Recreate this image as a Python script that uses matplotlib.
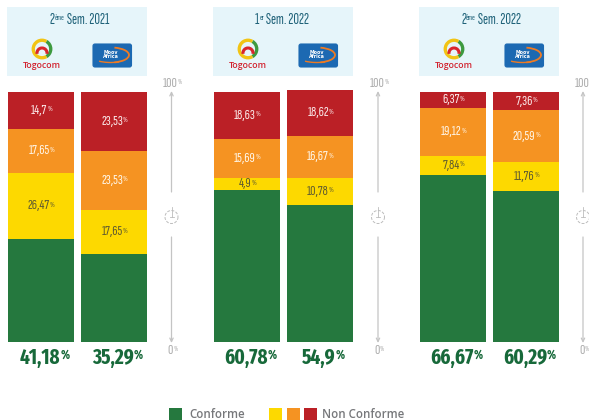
import matplotlib
matplotlib.use('Agg')
import matplotlib.pyplot as plt
from matplotlib.patches import Arc, FancyBboxPatch, Rectangle

periods = ['2', '1', '2']
period_sup = ['ème', 'er', 'ème']
period_rest = [' Sem. 2021', ' Sem. 2022', ' Sem. 2022']

conforme = [41.18, 35.29, 60.78, 54.9, 66.67, 60.29]
jaune = [26.47, 17.65, 4.9, 10.78, 7.84, 11.76]
orange = [17.65, 23.53, 15.69, 16.67, 19.12, 20.59]
rouge = [14.7, 23.53, 18.63, 18.62, 6.37, 7.36]

VERT = '#25783e'
JAUNE = '#fdd900'
ORANGE = '#f59322'
ROUGE = '#bb2026'
NARROW = ['Fira Sans Extra Condensed', 'Liberation Sans Narrow', 'DejaVu Sans']
TIGHT = ['Sofia Sans Extra Condensed', 'Fira Sans Extra Condensed', 'DejaVu Sans']

bar_x = [41, 114, 247, 320, 453, 526]
panel_x = [7, 213, 419]
scale_x = [171.5, 378, 583]

W, H = 589, 420
fig = plt.figure(figsize=(W / 100, H / 100), dpi=100)

# overlay in pixels for the headers, logos, scale and legend
ov = fig.add_axes([0, 0, 1, 1])
ov.set_xlim(0, W)
ov.set_ylim(H, 0)
ov.axis('off')

ax = fig.add_axes([0, (H - 342) / H, 1, 250 / H])
ax.set_xlim(0, W)
ax.set_ylim(0, 100)
ax.axis('off')


def fmt(v):
    return f'{v:g}'.replace('.', ',')


def pct(axes, x, y, label, size, color, weight='normal', sup=0.55, fam=NARROW):
    t = axes.text(x, y, label, ha='center', va='center', fontsize=size,
                  color=color, family=fam, fontweight=weight)
    axes.annotate('%', xy=(1, 1), xycoords=t, xytext=(0, -1), textcoords='offset points',
                  ha='left', va='top', fontsize=size * sup, color=color,
                  family=fam, fontweight=weight, annotation_clip=False)
    return t


def seg_label(i, bottom, v, color):
    pct(ax, bar_x[i] - 2, bottom + v / 2, fmt(v), 10.5, color, fam=TIGHT, sup=0.55)


for i, x in enumerate(bar_x):
    b = 0
    ax.bar(x, conforme[i], 66, bottom=b, color=VERT, clip_on=False)
    b += conforme[i]
    ax.bar(x, jaune[i], 66, bottom=b, color=JAUNE, clip_on=False)
    seg_label(i, b, jaune[i], '#5f5b30')
    b += jaune[i]
    ax.bar(x, orange[i], 66, bottom=b, color=ORANGE, clip_on=False)
    seg_label(i, b, orange[i], '#fff6e8')
    b += orange[i]
    ax.bar(x, rouge[i], 66, bottom=b, color=ROUGE, clip_on=False)
    seg_label(i, b, rouge[i], '#fbeaea')
    pct(ov, x - 1, 358, fmt(conforme[i]), 15, '#17693a', 'bold', sup=0.6)


def togocom(cx):
    ov.add_patch(Arc((cx, 49), 17.5, 17.5, theta1=-60, theta2=60, color='#3d9a3f', lw=2.4))
    ov.add_patch(Arc((cx, 49), 17.5, 17.5, theta1=60, theta2=300, color='#f2c414', lw=2.4))
    ov.add_patch(Arc((cx, 53), 10, 10, theta1=170, theta2=370, color='#d9262c', lw=2.2))
    ov.text(cx, 65, 'Togocom', ha='center', va='center', fontsize=6.3,
            color='#d2232f', family='Open Sans', fontweight='semibold')


def moov(x0):
    ov.add_patch(FancyBboxPatch((x0, 44), 38.5, 23, boxstyle='round,pad=0,rounding_size=2',
                                fc='#1c69b2', ec='#1c69b2', lw=0.8))
    ov.add_patch(Arc((x0 + 18, 55), 36, 15, theta1=-65, theta2=65, color='#ee7b23', lw=1.3))
    ov.add_patch(Arc((x0 + 18, 59), 30, 7, theta1=20, theta2=170, color='#ee7b23', lw=1))
    ov.text(x0 + 18, 52, 'Moov', ha='center', va='center', fontsize=3.4, color='white', fontweight='bold')
    ov.text(x0 + 18, 57, 'Africa', ha='center', va='center', fontsize=3.4, color='white', fontweight='bold')


def scale(x):
    c = '#c4c4c4'
    ov.annotate('', xy=(x, 91), xytext=(x, 192),
                arrowprops=dict(arrowstyle='->,head_width=0.12,head_length=0.25', color=c, lw=0.9, shrinkA=0, shrinkB=0))
    ov.annotate('', xy=(x, 343), xytext=(x, 237),
                arrowprops=dict(arrowstyle='->,head_width=0.12,head_length=0.25', color=c, lw=0.9, shrinkA=0, shrinkB=0))
    ov.add_patch(Arc((x, 217), 13, 13, color='#bdbdbd', lw=0.7, ls=(0, (3, 1.5))))
    ov.plot([x, x], [207, 217], color='#bdbdbd', lw=0.6)
    ov.plot([x - 2, x + 2], [217, 217], color='#bdbdbd', lw=0.6)
    pct(ov, x - 1, 83.5, '100', 10.5, '#ababab', sup=0.5, fam=TIGHT)
    pct(ov, x - 1, 350.5, '0', 10.5, '#ababab', sup=0.5, fam=TIGHT)


header_start = [50, 255, 461]
for p, x0 in enumerate(panel_x):
    ov.add_patch(Rectangle((x0, 7), 140, 69, fc='#e6f5fa', ec='none'))
    t = ov.text(header_start[p], 19.5, periods[p], ha='left', va='center', fontsize=11,
                color='#1f6279', family=TIGHT)
    s = ov.annotate(period_sup[p], xy=(1, 1), xycoords=t, xytext=(0, -1), textcoords='offset points',
                    ha='left', va='top', fontsize=6, color='#1f6279', family=TIGHT)
    ov.annotate(period_rest[p], xy=(1, 0), xycoords=(s, t), ha='left', va='bottom',
                fontsize=11, color='#1f6279', family=TIGHT)
    togocom(x0 + 35)
    moov(x0 + 86)
    scale(scale_x[p])

# legend runs off the bottom edge like in the source
for x0, c in [(169, VERT), (269, JAUNE), (287, ORANGE), (304, ROUGE)]:
    ov.add_patch(Rectangle((x0, 408), 13, 13, fc=c, ec='none', clip_on=True))
ov.text(189, 415, 'Conforme', ha='left', va='center', fontsize=8.3,
        color='#77787b', family='Open Sans', fontweight='semibold')
ov.text(322, 415, 'Non Conforme', ha='left', va='center', fontsize=8.3,
        color='#77787b', family='Open Sans', fontweight='semibold')

fig.savefig('out.png', dpi=100)
